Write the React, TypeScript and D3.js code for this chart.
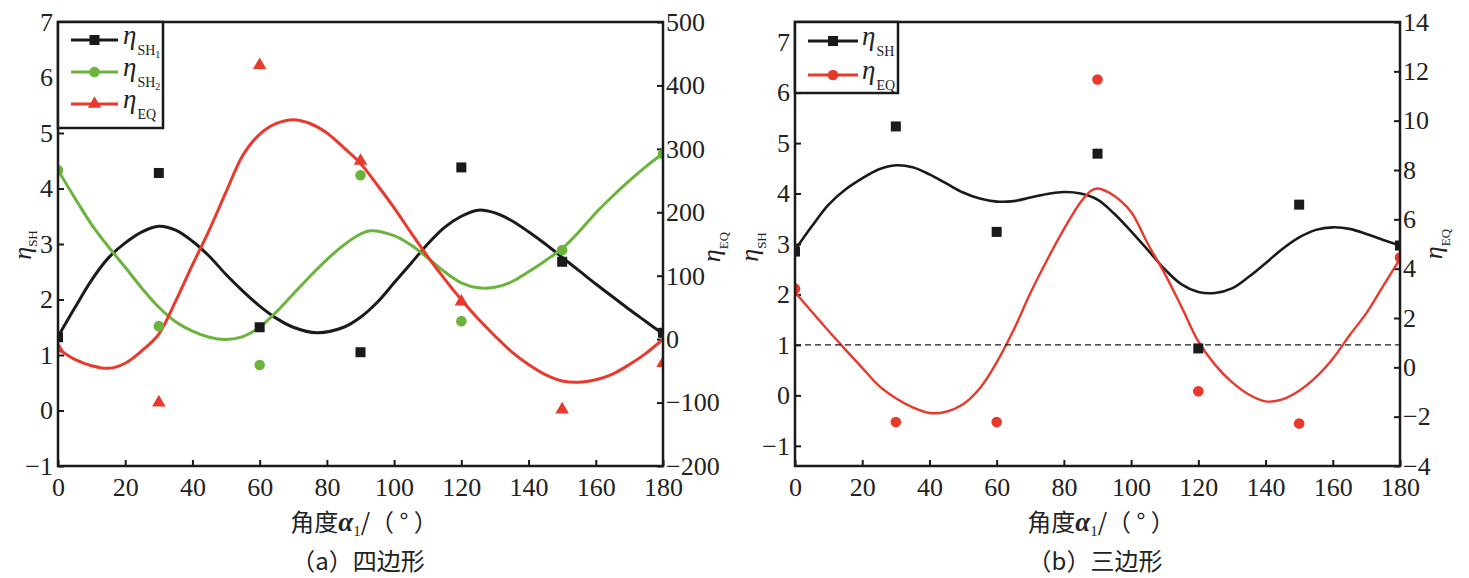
import { useRef, useEffect } from 'react';
import * as d3 from 'd3';

type Pt = [number, number];

const angleTicks = [0, 20, 40, 60, 80, 100, 120, 140, 160, 180];

// (a) 四边形 — measured points
const sh1PtsA: Pt[] = [[0, 1.32], [30, 4.28], [60, 1.5], [90, 1.05], [120, 4.38], [150, 2.68], [180, 1.4]];
const sh2PtsA: Pt[] = [[0, 4.33], [30, 1.52], [60, 0.82], [90, 4.24], [120, 1.61], [150, 2.89], [180, 4.62]];
const eqPtsA: Pt[] = [[0, -15], [30, -100], [60, 432], [90, 281], [120, 59], [150, -111], [180, -38]];

// (a) fitted curves
const sh1FitA: Pt[] = [
  [0, 1.33], [5, 1.85], [10, 2.35], [15, 2.75], [20, 3.02], [25, 3.22], [30, 3.32], [35, 3.25],
  [40, 3.05], [45, 2.78], [50, 2.45], [55, 2.15], [60, 1.88], [65, 1.66], [70, 1.5], [77, 1.4],
  [85, 1.5], [90, 1.68], [95, 1.95], [100, 2.3], [105, 2.65], [110, 3.0], [115, 3.3], [120, 3.5],
  [125, 3.61], [130, 3.56], [135, 3.42], [140, 3.22], [145, 3.0], [150, 2.76], [155, 2.52],
  [160, 2.28], [165, 2.05], [170, 1.82], [175, 1.6], [180, 1.38],
];
const sh2FitA: Pt[] = [
  [0, 4.33], [5, 3.83], [10, 3.35], [15, 2.95], [20, 2.58], [25, 2.2], [30, 1.86], [35, 1.6],
  [40, 1.43], [45, 1.32], [50, 1.28], [55, 1.33], [60, 1.5], [65, 1.78], [70, 2.1], [75, 2.42],
  [80, 2.72], [85, 2.98], [90, 3.18], [93, 3.24], [100, 3.15], [105, 2.98], [110, 2.75], [115, 2.5],
  [120, 2.3], [125, 2.21], [130, 2.22], [135, 2.32], [140, 2.5], [145, 2.7], [150, 2.92], [155, 3.22],
  [160, 3.56], [165, 3.86], [170, 4.14], [175, 4.4], [180, 4.63],
];
const eqFitA: Pt[] = [
  [0, -15], [5, -32], [10, -42], [15, -46], [20, -38], [25, -18], [30, 8], [35, 60], [40, 117],
  [45, 172], [50, 232], [55, 290], [60, 323], [65, 340], [70, 346], [75, 340], [80, 325], [85, 302],
  [90, 277], [95, 243], [100, 207], [105, 168], [110, 130], [115, 95], [120, 62], [125, 32], [130, 5],
  [135, -20], [140, -40], [145, -56], [150, -66], [155, -68], [160, -64], [165, -55], [170, -40],
  [175, -22], [180, 0],
];
const shTicksA = [-1, 0, 1, 2, 3, 4, 5, 6, 7];
const eqTicksA = [-200, -100, 0, 100, 200, 300, 400, 500];

// (b) 三边形
const shPtsB: Pt[] = [[0, 2.85], [30, 5.33], [60, 3.24], [90, 4.79], [120, 0.93], [150, 3.78], [180, 2.97]];
const eqPtsB: Pt[] = [[0, 3.19], [30, -2.22], [60, -2.22], [90, 11.67], [120, -0.97], [150, -2.28], [180, 4.45]];
const shFitB: Pt[] = [
  [0, 2.88], [5, 3.35], [10, 3.78], [15, 4.08], [20, 4.3], [25, 4.48], [30, 4.56], [35, 4.52],
  [40, 4.38], [45, 4.2], [50, 4.02], [55, 3.9], [60, 3.84], [65, 3.85], [70, 3.92], [75, 3.99],
  [80, 4.03], [85, 4.0], [90, 3.88], [95, 3.6], [100, 3.25], [105, 2.88], [110, 2.5], [115, 2.2],
  [120, 2.05], [125, 2.03], [130, 2.12], [135, 2.35], [140, 2.62], [145, 2.9], [150, 3.13],
  [155, 3.28], [160, 3.33], [165, 3.3], [170, 3.2], [175, 3.08], [180, 2.97],
];
const eqFitB: Pt[] = [
  [0, 3.05], [5, 2.25], [10, 1.47], [15, 0.72], [20, -0.02], [25, -0.75], [30, -1.25], [35, -1.62],
  [40, -1.85], [45, -1.8], [50, -1.5], [55, -0.85], [60, 0.2], [65, 1.5], [70, 3.0], [75, 4.35],
  [80, 5.6], [85, 6.7], [88, 7.15], [90, 7.25], [95, 6.95], [100, 6.3], [105, 5.0], [110, 3.8],
  [115, 2.45], [120, 1.05], [125, 0.1], [130, -0.6], [135, -1.1], [140, -1.38], [145, -1.3],
  [150, -0.95], [155, -0.4], [160, 0.35], [165, 1.3], [170, 2.2], [175, 3.3], [180, 4.4],
];
const shTicksB = [-1, 0, 1, 2, 3, 4, 5, 6, 7];
const eqTicksB = [-4, -2, 0, 2, 4, 6, 8, 10, 12, 14];
const thresholdB = 1;

const BLACK = '#1a1a1a';
const GREEN = '#6cb33e';
const RED = '#e8392d';
const SERIF = "'Liberation Serif', 'DejaVu Serif', serif";
const CJK = "'Noto Sans CJK SC', sans-serif";
const TOP = 22;
const BOTTOM = 466;

type Marker = 'square' | 'circle' | 'triangle';
type Sel = d3.Selection<SVGGElement, unknown, null, undefined>;

function drawMarker(g: Sel, kind: Marker, cx: number, cy: number, color: string) {
  if (kind === 'square') {
    g.append('rect').attr('x', cx - 5).attr('y', cy - 5).attr('width', 10).attr('height', 10).attr('fill', color);
  } else if (kind === 'circle') {
    g.append('circle').attr('cx', cx).attr('cy', cy).attr('r', 5.3).attr('fill', color);
  } else {
    g.append('path').attr('transform', `translate(${cx},${cy})`)
      .attr('d', d3.symbol(d3.symbolTriangle, 78)()).attr('fill', color);
  }
}

interface Series { pts: Pt[]; fit: Pt[]; axis: 'sh' | 'eq'; color: string; marker: Marker; width: number }

function drawPanel(root: Sel, id: string, left: number, right: number,
  shDomain: [number, number], eqDomain: [number, number], shTicks: number[], eqTicks: number[],
  series: Series[]) {
  const x = d3.scaleLinear().domain([0, 180]).range([left, right]);
  const ySh = d3.scaleLinear().domain(shDomain).range([BOTTOM, TOP]);
  const yEq = d3.scaleLinear().domain(eqDomain).range([BOTTOM, TOP]);
  const g = root.append('g');

  g.append('clipPath').attr('id', id).append('rect')
    .attr('x', left).attr('y', TOP).attr('width', right - left).attr('height', BOTTOM - TOP);

  const styleAxis = (a: Sel) => {
    a.select('.domain').remove();
    a.selectAll('line').attr('stroke', BLACK).attr('stroke-width', 2);
    a.selectAll('text').attr('fill', '#222').attr('font-family', SERIF).attr('font-size', 26);
  };

  g.append('g').attr('transform', `translate(0,${BOTTOM})`)
    .call(d3.axisBottom(x).tickValues(angleTicks).tickSizeInner(-6).tickSizeOuter(0).tickPadding(12))
    .call(styleAxis);
  g.append('g').attr('transform', `translate(${left},0)`)
    .call(d3.axisLeft(ySh).tickValues(shTicks).tickSizeInner(-6).tickSizeOuter(0).tickPadding(5))
    .call(styleAxis);
  g.append('g').attr('transform', `translate(${right},0)`)
    .call(d3.axisRight(yEq).tickValues(eqTicks).tickSizeInner(-6).tickSizeOuter(0).tickPadding(3))
    .call(styleAxis);

  const plot = g.append('g').attr('clip-path', `url(#${id})`);
  series.forEach((s) => {
    const y = s.axis === 'sh' ? ySh : yEq;
    const line = d3.line<Pt>().x((d) => x(d[0])).y((d) => y(d[1])).curve(d3.curveCatmullRom.alpha(0.5));
    plot.append('path').attr('d', line(s.fit)).attr('fill', 'none')
      .attr('stroke', s.color).attr('stroke-width', s.width).attr('stroke-linejoin', 'round');
  });
  series.forEach((s) => {
    const y = s.axis === 'sh' ? ySh : yEq;
    s.pts.forEach((d) => drawMarker(plot, s.marker, x(d[0]), y(d[1]), s.color));
  });

  g.append('rect').attr('x', left).attr('y', TOP).attr('width', right - left).attr('height', BOTTOM - TOP)
    .attr('fill', 'none').attr('stroke', BLACK).attr('stroke-width', 2.5);

  return { x, ySh, yEq, g, plot };
}

function etaLabel(g: Sel, tx: number, cy: number, sub: string, dy: number) {
  const t = g.append('text').attr('transform', `translate(${tx},${cy}) rotate(-90)`)
    .attr('text-anchor', 'middle').attr('fill', '#222').attr('font-family', SERIF);
  t.append('tspan').attr('font-style', 'italic').attr('font-size', 26).text('η');
  t.append('tspan').attr('font-size', 13).attr('dy', dy).text(sub);
}

function xLabel(g: Sel, cx: number, caption: string) {
  const t = g.append('text').attr('x', cx).attr('y', 531).attr('text-anchor', 'middle')
    .attr('fill', '#222').attr('font-size', 24).attr('font-family', CJK);
  t.append('tspan').text('角度');
  t.append('tspan').attr('font-family', SERIF).attr('font-style', 'italic').attr('font-weight', 'bold')
    .attr('font-size', 27).text('α');
  t.append('tspan').attr('font-family', SERIF).attr('font-size', 15).attr('dy', 5).text('1');
  t.append('tspan').attr('dy', -5).text('/（ ° ）');
  g.append('text').attr('x', cx - 6).attr('y', 570).attr('text-anchor', 'middle')
    .attr('fill', '#222').attr('font-size', 24).attr('font-family', CJK).text(caption);
}

interface LegendRow { y: number; color: string; marker: Marker; sub: string; sub2?: string }

function drawLegend(g: Sel, x0: number, x1: number, y1: number, lineX: [number, number], textX: number, rows: LegendRow[]) {
  g.append('rect').attr('x', x0).attr('y', TOP).attr('width', x1 - x0).attr('height', y1 - TOP)
    .attr('fill', '#fff').attr('stroke', BLACK).attr('stroke-width', 2.5);
  rows.forEach((r) => {
    g.append('line').attr('x1', lineX[0]).attr('x2', lineX[1]).attr('y1', r.y).attr('y2', r.y)
      .attr('stroke', r.color).attr('stroke-width', 3);
    drawMarker(g, r.marker, (lineX[0] + lineX[1]) / 2, r.y, r.color);
    const t = g.append('text').attr('x', textX).attr('y', r.y + 4).attr('fill', '#222').attr('font-family', SERIF);
    t.append('tspan').attr('font-style', 'italic').attr('font-size', 27).text('η');
    t.append('tspan').attr('font-size', 14).attr('dy', 11).attr('dx', 1).text(r.sub);
    if (r.sub2) t.append('tspan').attr('font-size', 10).attr('dy', 3).text(r.sub2);
  });
}

export default function App() {
  const ref = useRef<SVGSVGElement>(null);

  useEffect(() => {
    if (!ref.current) return;
    const svg = d3.select(ref.current);
    svg.selectAll('*').remove();
    const root = svg.append('g') as unknown as Sel;

    // (a)
    const a = drawPanel(root, 'clipA', 58, 663, [-1, 7], [-200, 500], shTicksA, eqTicksA, [
      { pts: sh1PtsA, fit: sh1FitA, axis: 'sh', color: BLACK, marker: 'square', width: 3 },
      { pts: sh2PtsA, fit: sh2FitA, axis: 'sh', color: GREEN, marker: 'circle', width: 3 },
      { pts: eqPtsA, fit: eqFitA, axis: 'eq', color: RED, marker: 'triangle', width: 3 },
    ]);
    drawLegend(a.g, 58, 163, 128, [71, 118], 123, [
      { y: 40, color: BLACK, marker: 'square', sub: 'SH', sub2: '1' },
      { y: 72, color: GREEN, marker: 'circle', sub: 'SH', sub2: '2' },
      { y: 104, color: RED, marker: 'triangle', sub: 'EQ' },
    ]);
    etaLabel(a.g, 31, 245, 'SH', 6);
    etaLabel(a.g, 720, 247, 'EQ', 8);
    xLabel(a.g, 364, '（a）四边形');

    // (b)
    const b = drawPanel(root, 'clipB', 795, 1400, [-1.4, 7.4], [-4, 14], shTicksB, eqTicksB, [
      { pts: shPtsB, fit: shFitB, axis: 'sh', color: BLACK, marker: 'square', width: 2.6 },
      { pts: eqPtsB, fit: eqFitB, axis: 'eq', color: RED, marker: 'circle', width: 2.4 },
    ]);
    b.plot.append('line').attr('x1', b.x(0)).attr('x2', b.x(180))
      .attr('y1', b.ySh(thresholdB)).attr('y2', b.ySh(thresholdB))
      .attr('stroke', BLACK).attr('stroke-width', 1.4).attr('stroke-dasharray', '6,4');
    drawLegend(b.g, 795, 898, 93, [808, 858], 862, [
      { y: 41, color: BLACK, marker: 'square', sub: 'SH' },
      { y: 75, color: RED, marker: 'circle', sub: 'EQ' },
    ]);
    etaLabel(b.g, 758, 247, 'SH', 8);
    etaLabel(b.g, 1442, 244, 'EQ', 8);
    xLabel(b.g, 1101, '（b）三边形');
  }, []);

  return (
    <svg ref={ref} width={1469} height={578}
      style={{ position: 'absolute', left: 0, top: 0, background: '#fff', display: 'block' }} />
  );
}
